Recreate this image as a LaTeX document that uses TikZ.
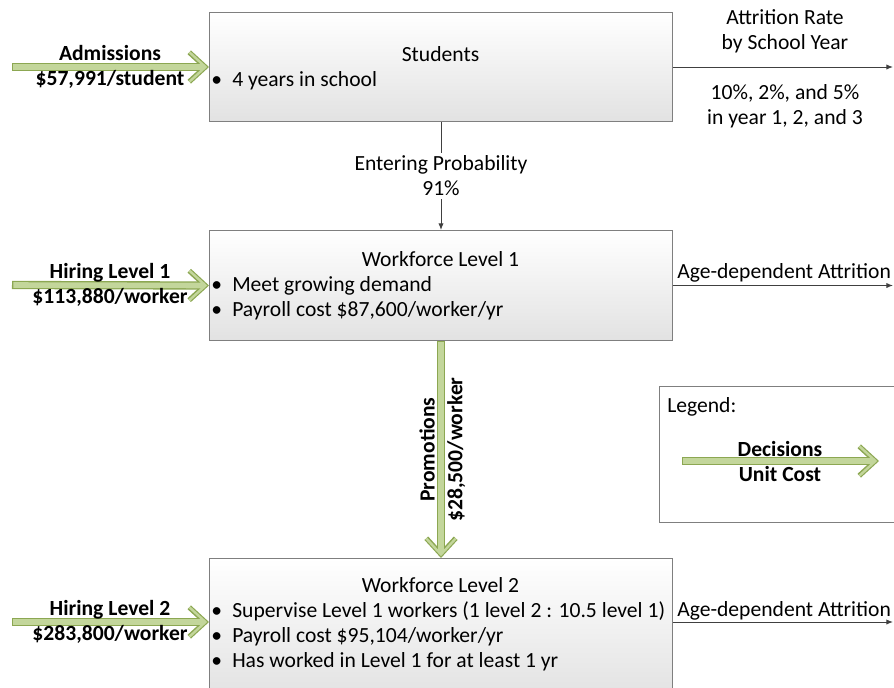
\documentclass[tikz,border=0pt]{standalone}
\usepackage{fontspec}
\setmainfont{Carlito}
\usetikzlibrary{arrows.meta,positioning}

\definecolor{boxline}{HTML}{7F7F7F}
\definecolor{boxbottom}{HTML}{E2E2E2}
\definecolor{flowline}{HTML}{404040}
\definecolor{decfill}{HTML}{C3D69B}
\definecolor{decline}{HTML}{8CA752}

\newcommand{\bul}{\makebox[15.75pt][l]{\textbullet}}

\tikzset{
	stock/.style={draw=boxline, line width=0.75pt, top color=white, bottom color=boxbottom, inner sep=0pt},
	title/.style={anchor=base, inner sep=0pt},
	item/.style={anchor=base west, inner sep=0pt},
	flow/.style={draw=flowline, line width=0.75pt, -{Latex[length=5pt,width=4pt]}},
	decision/.style={line width=6.2pt, draw=decline, line cap=butt,
		-{Straight Barb[length=12pt,width=22pt,line width=3.8pt]},
		postaction={draw=decfill, line width=4.2pt, shorten <=1pt, shorten >=1.3pt,
			-{Straight Barb[length=12pt,width=22pt,line width=1.8pt]}}},
	cost/.style={align=center, inner sep=0pt, font=\fontsize{16.2}{18.75}\selectfont\bfseries},
	note/.style={align=center, inner sep=0pt}
}

\begin{document}
\begin{tikzpicture}[x=0.75pt, y=-0.75pt, font=\fontsize{16.2}{18.75}\selectfont]
	\useasboundingbox (0,0) rectangle (894,687);

	% stocks
	\node[stock, anchor=north west, minimum width=347.25pt, minimum height=81.75pt] (stu) at (209,12) {};
	\node[stock, anchor=north west, minimum width=347.25pt, minimum height=82.5pt] (wl1) at (209,230) {};
	\node[stock, anchor=north west, minimum width=347.25pt, minimum height=105pt] (wl2) at (209,558) {};
	\node[draw=boxline, line width=0.75pt, fill=white, anchor=north west, minimum width=183pt, minimum height=102pt, inner sep=0pt] (legend) at (659,386) {};

	\node[title] (stut) at (440.5,61) {Students};
	\node[item] (stu1) at (211,86) {\bul 4 years in school};

	\node[title] (wl1t) at (440.5,266) {Workforce Level 1};
	\node[item] (wl1a) at (211,291) {\bul Meet growing demand};
	\node[item] (wl1b) at (211,316) {\bul Payroll cost \$87,600/worker/yr};

	\node[title] (wl2t) at (440.5,592) {Workforce Level 2};
	\node[item] (wl2a) at (211,617) {\bul Supervise Level 1 workers (1 level 2 : 10.5 level 1)};
	\node[item] (wl2b) at (211,642) {\bul Payroll cost \$95,104/worker/yr};
	\node[item] (wl2c) at (211,667) {\bul Has worked in Level 1 for at least 1 yr};

	% decisions
	\coordinate (adm) at (12,67);
	\coordinate (hire1) at (12,285);
	\coordinate (hire2) at (12,622);
	\coordinate (end) at (893,0);

	\draw[decision] (adm) -- (stu.west);
	\node[cost] (admt) at (110,67) {Admissions\\\$57,991/student};
	\draw[decision] (hire1) -- (wl1.west);
	\node[cost] (hire1t) at (110,285) {Hiring Level 1\\\$113,880/worker};
	\draw[decision] (hire2) -- (hire2 -| wl2.west);
	\node[cost] (hire2t) at (110,622) {Hiring Level 2\\\$283,800/worker};

	\draw[decision] (wl1.south) -- (wl2.north)
		node[midway, rotate=90, anchor=south, inner sep=1.5pt, font=\fontsize{16.2}{18.75}\selectfont\bfseries] {Promotions}
		node[midway, rotate=90, anchor=north, inner sep=1.5pt, font=\fontsize{16.2}{18.75}\selectfont\bfseries] {\$28,500/worker};

	% flows
	\draw[flow] (stu.south) -- node[note, fill=white, inner sep=2pt] (enter) {Entering Probability\\91\%} (wl1.north);

	\draw[flow] (stu.east) -- (stu.east -| end);
	\node[note] (attr1) at (785,31) {Attrition Rate\\by School Year};
	\node[note] (attr2) at (785,106) {10\%, 2\%, and 5\%\\in year 1, 2, and 3};

	\draw[flow] (wl1.east) -- (wl1.east -| end);
	\node[item] (age1) at (677,278) {Age-dependent Attrition};
	\draw[flow] (hire2 -| wl2.east) -- (hire2 -| end);
	\node[item] (age2) at (677,616) {Age-dependent Attrition};

	% legend
	\node[item] (legt) at (667,412) {Legend:};
	\coordinate (leg1) at (682,461);
	\coordinate (leg2) at (879,461);
	\draw[decision] (leg1) -- (leg2);
	\node[cost] (legc) at (780,461) {Decisions\\Unit Cost};
\end{tikzpicture}
\end{document}
